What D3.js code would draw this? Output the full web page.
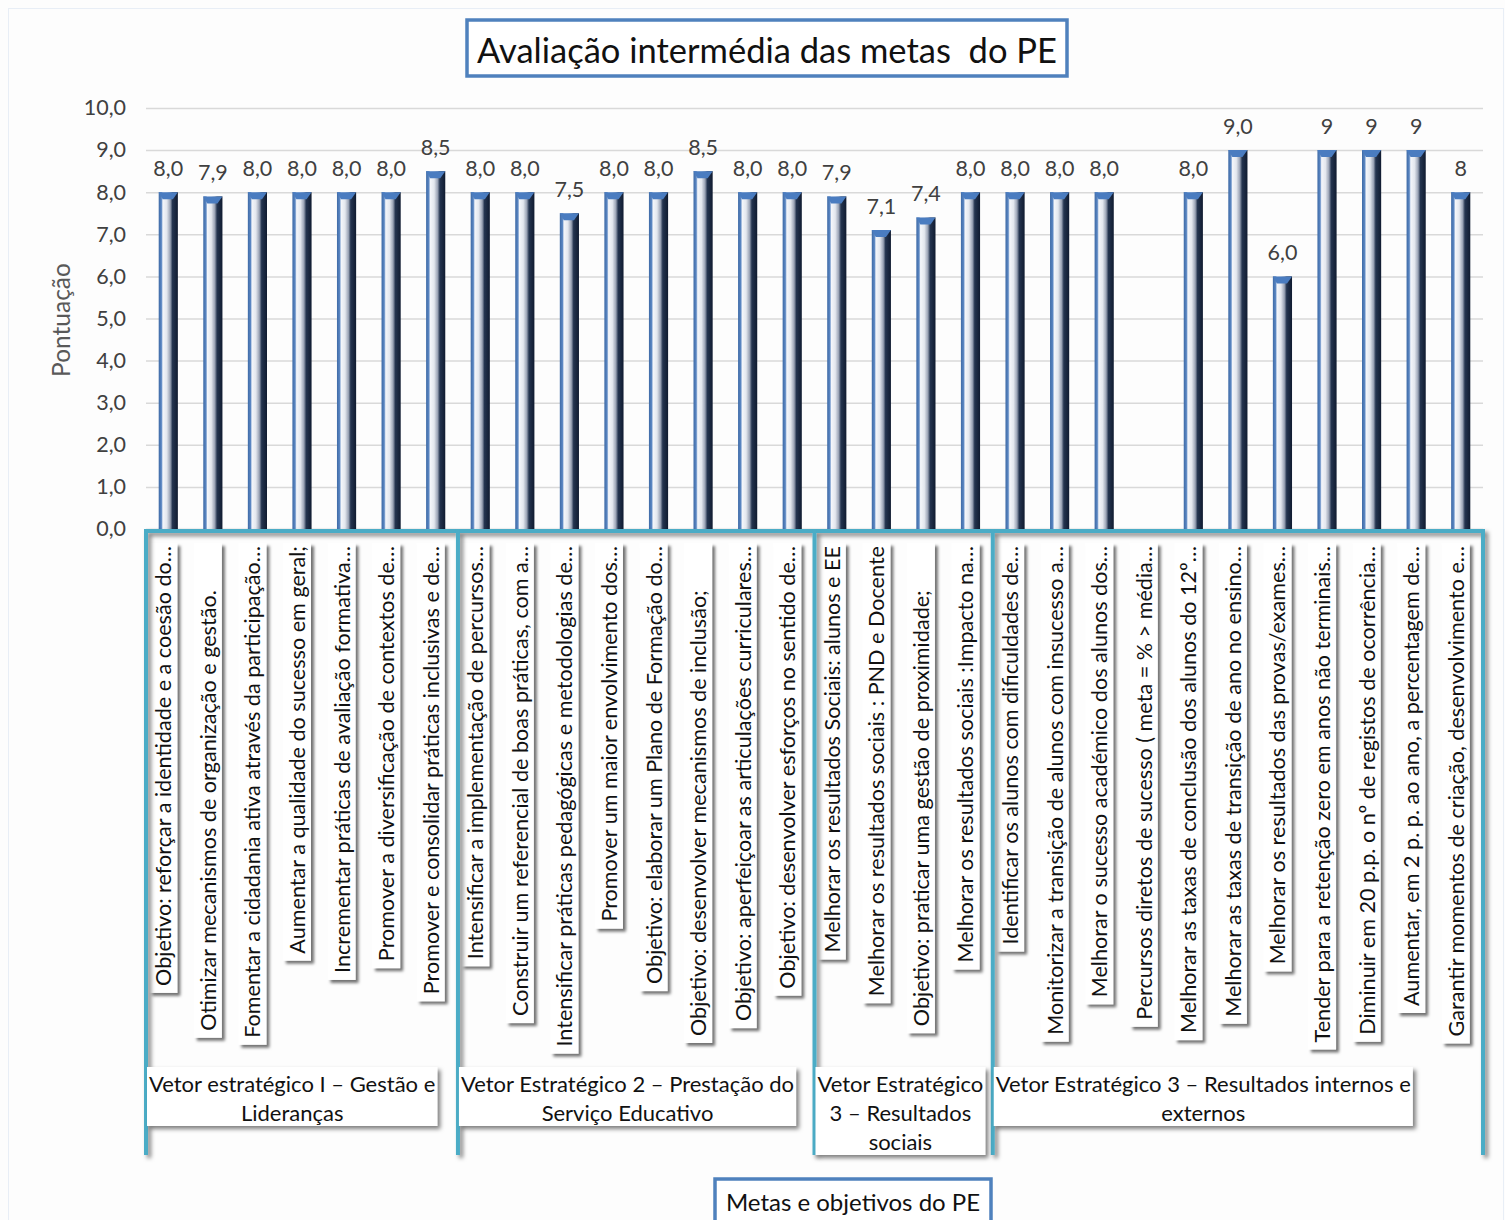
<!DOCTYPE html>
<html>
<head>
<meta charset="utf-8">
<script src="https://cdn.jsdelivr.net/npm/d3@7"></script>
<style>
  html, body { margin: 0; padding: 0; background: #fdfdfd; }
  svg { display: block; }
  svg text { white-space: pre; }
</style>
</head>
<body>
<svg id="chart" width="1505" height="1220"></svg>
<script>
// ---------------- DATA ----------------
const categories = [
  "Objetivo: reforçar a identidade e a coesão do…",
  "Otimizar mecanismos de organização e gestão.        ",
  "Fomentar a cidadania ativa através da participação…",
  "Aumentar a qualidade do sucesso em geral;",
  "Incrementar práticas de avaliação formativa…",
  "Promover a diversificação de contextos de…",
  "Promover e consolidar práticas inclusivas e de…",
  "Intensificar a implementação de percursos…",
  "Construir um referencial de boas práticas, com a…",
  "Intensificar práticas pedagógicas e metodologias de…",
  "Promover um maior envolvimento dos…",
  "Objetivo: elaborar um Plano de Formação do…",
  "Objetivo: desenvolver mecanismos de inclusão;        ",
  "Objetivo: aperfeiçoar as articulações curriculares…",
  "Objetivo: desenvolver esforços no sentido de…",
  "Melhorar os resultados Sociais: alunos e EE",
  "Melhorar os resultados sociais : PND e Docente",
  "Objetivo: praticar uma gestão de proximidade;        ",
  "Melhorar os resultados sociais :Impacto na…",
  "Identificar os alunos com dificuldades de…",
  "Monitorizar a transição de alunos com insucesso a…",
  "Melhorar o sucesso académico dos alunos dos…",
  "Percursos diretos de sucesso ( meta = % > média…",
  "Melhorar as taxas de conclusão dos alunos do 12º…",
  "Melhorar as taxas de transição de ano no ensino…",
  "Melhorar os resultados das provas/exames…",
  "Tender para a retenção zero em anos não terminais…",
  "Diminuir em 20 p.p. o nº de registos de ocorrência…",
  "Aumentar, em 2 p. p. ao ano, a percentagem de…",
  "Garantir momentos de criação, desenvolvimento e…"
];
const values = [8.0, 7.9, 8.0, 8.0, 8.0, 8.0, 8.5,
                8.0, 8.0, 7.5, 8.0, 8.0, 8.5, 8.0, 8.0,
                7.9, 7.1, 7.4, 8.0,
                8.0, 8.0, 8.0, null, 8.0, 9.0, 6.0, 9, 9, 9, 8];
const valueLabels = ["8,0","7,9","8,0","8,0","8,0","8,0","8,5",
                     "8,0","8,0","7,5","8,0","8,0","8,5","8,0","8,0",
                     "7,9","7,1","7,4","8,0",
                     "8,0","8,0","8,0","","8,0","9,0","6,0","9","9","9","8"];
const groupLines = [
  ["Vetor estratégico I – Gestão e", "Lideranças"],
  ["Vetor Estratégico 2 – Prestação do", "Serviço Educativo"],
  ["Vetor Estratégico", "3 – Resultados", "sociais"],
  ["Vetor Estratégico 3 – Resultados internos e", "externos"]
];
const groupStart = [0, 7, 15, 19];
const groupEnd   = [7, 15, 19, 30];
const yTicks = [0,1,2,3,4,5,6,7,8,9,10];
const chartTitle = "Avaliação intermédia das metas  do PE";
const yTitle = "Pontuação";
const xTitle = "Metas e objetivos do PE";

// ---------------- LAYOUT ----------------
const FONT = "Lato, 'Open Sans', sans-serif";
const svg = d3.select("#chart");
const plotLeft = 146, plotRight = 1483, plotTop = 108, plotBottom = 529;
const teal = "#4bacc6", blue = "#4f81bd";

const x = d3.scaleBand().domain(d3.range(categories.length))
  .range([plotLeft, plotRight]).paddingInner(0.57).paddingOuter(0.285);
const y = d3.scaleLinear().domain([0, 10]).range([plotBottom, plotTop]);
const step = x.step();
const boundary = i => plotLeft + i * step;

const defs = svg.append("defs");
const grad = defs.append("linearGradient").attr("id", "barGrad")
  .attr("x1", "0%").attr("x2", "100%").attr("y1", "0%").attr("y2", "0%");
[["0%", "#3e6aa6"], ["14%", "#5a86c2"], ["22%", "#f4f6fa"], ["42%", "#e3e7ee"],
 ["60%", "#9aa3b5"], ["72%", "#24344f"], ["100%", "#101b30"]]
  .forEach(([o, c]) => grad.append("stop").attr("offset", o).attr("stop-color", c));

const sh = defs.append("filter").attr("id", "shadow")
  .attr("x", "-30%").attr("y", "-10%").attr("width", "160%").attr("height", "130%");
sh.append("feDropShadow").attr("dx", 3).attr("dy", 3).attr("stdDeviation", 1.8)
  .attr("flood-color", "#000").attr("flood-opacity", 0.55);
const sh2 = defs.append("filter").attr("id", "shadow2")
  .attr("x", "-5%").attr("y", "-10%").attr("width", "110%").attr("height", "130%");
sh2.append("feDropShadow").attr("dx", 3).attr("dy", 3).attr("stdDeviation", 2)
  .attr("flood-color", "#000").attr("flood-opacity", 0.5);

// Outer faint frame
svg.append("rect").attr("x", 8.5).attr("y", 8.5).attr("width", 1495).attr("height", 1220)
  .attr("fill", "#fdfdfd").attr("stroke", "#e8eef6").attr("stroke-width", 1);

// Gridlines
svg.append("g")
  .attr("transform", `translate(${plotLeft},0)`)
  .call(d3.axisLeft(y).tickValues(yTicks).tickSize(-(plotRight - plotLeft)).tickFormat(""))
  .call(g => g.select(".domain").remove())
  .call(g => g.selectAll("line").attr("stroke", "#d9d9d9").attr("stroke-width", 1.5));

// Y axis labels
svg.append("g")
  .attr("transform", `translate(${plotLeft - 20},0)`)
  .call(d3.axisLeft(y).tickValues(yTicks).tickSize(0).tickPadding(0)
    .tickFormat(d => d.toFixed(1).replace(".", ",")))
  .call(g => g.select(".domain").remove())
  .call(g => g.selectAll("text").attr("font-family", FONT).attr("font-size", 21.5)
    .attr("fill", "#404040"));

// Y title
svg.append("text").attr("transform", "translate(60,320) rotate(-90)")
  .attr("text-anchor", "middle").attr("dominant-baseline", "central")
  .attr("font-family", FONT).attr("font-size", 24.5).attr("fill", "#595959").text(yTitle);

// Bars
const barData = values.map((v, i) => ({ v, i })).filter(d => d.v !== null);
const bars = svg.append("g");
bars.selectAll("rect").data(barData).join("rect")
  .attr("x", d => x(d.i)).attr("width", x.bandwidth())
  .attr("y", d => y(d.v)).attr("height", d => y(0) - y(d.v))
  .attr("fill", "url(#barGrad)");
bars.selectAll("path.cap").data(barData).join("path").attr("class", "cap")
  .attr("d", d => {
    const x0 = x(d.i), x1 = x0 + x.bandwidth(), t = y(d.v);
    return `M${x0},${t}L${x1},${t}L${x1 - 5},${t + 7}L${x0 + 4},${t + 7}Z`;
  })
  .attr("fill", "#4a7cc0");

// Value labels
svg.append("g").selectAll("text").data(barData).join("text")
  .attr("x", d => x(d.i) + x.bandwidth() / 2)
  .attr("y", d => y(d.v) - 16)
  .attr("text-anchor", "middle").attr("font-family", FONT).attr("font-size", 21.5)
  .attr("fill", "#404040").text(d => valueLabels[d.i]);

// Category labels (rotated, in boxes)
const catG = svg.append("g");
const labelTop = 543;
categories.forEach((c, i) => {
  const cx = x(i) + x.bandwidth() / 2 - 5;
  const g = catG.append("g");
  const rect = g.append("rect").attr("fill", "#ffffff").attr("filter", "url(#shadow)");
  const t = g.append("text")
    .attr("transform", `translate(${cx},${labelTop + 3}) rotate(-90)`)
    .attr("text-anchor", "end").attr("dominant-baseline", "central")
    .attr("font-family", FONT).attr("font-size", 21.6).attr("fill", "#111")
    .text(c);
  const len = t.node().getComputedTextLength();
  rect.attr("x", cx - 14).attr("width", 28).attr("y", labelTop)
    .attr("height", len + 10);
});

// Teal frame lines
const frame = svg.append("g").attr("filter", "url(#shadow2)");
frame.append("line").attr("x1", plotLeft - 1).attr("x2", plotRight + 1)
  .attr("y1", plotBottom + 2).attr("y2", plotBottom + 2)
  .attr("stroke", teal).attr("stroke-width", 4);
const bounds = [0, ...groupEnd];
frame.selectAll("line.v").data(bounds).join("line").attr("class", "v")
  .attr("x1", d => boundary(d)).attr("x2", d => boundary(d))
  .attr("y1", plotBottom).attr("y2", 1155)
  .attr("stroke", teal).attr("stroke-width", 4);

// Group labels
groupLines.forEach((lines, gi) => {
  const gx0 = boundary(groupStart[gi]);
  const g = svg.append("g");
  const rect = g.append("rect").attr("fill", "#fff").attr("filter", "url(#shadow2)");
  const txt = g.append("text").attr("font-family", FONT).attr("font-size", 22).attr("fill", "#111")
    .attr("text-anchor", "middle");
  lines.forEach((l, li) => {
    txt.append("tspan").attr("x", 0).attr("y", 1083 + li * 29)
      .attr("dominant-baseline", "central").text(l);
  });
  const w = d3.max(txt.selectAll("tspan").nodes(), n => n.getComputedTextLength()) + 4;
  txt.attr("transform", `translate(${gx0 + 1 + w / 2},0)`);
  rect.attr("x", gx0 + 1).attr("width", w).attr("y", 1067)
    .attr("height", lines.length * 29 + 1);
});

// Title
const titleG = svg.append("g");
titleG.append("rect").attr("x", 467).attr("y", 20).attr("width", 600).attr("height", 56)
  .attr("fill", "#fff").attr("stroke", blue).attr("stroke-width", 3.5);
titleG.append("text").attr("x", 767).attr("y", 49).attr("text-anchor", "middle")
  .attr("dominant-baseline", "central").attr("font-family", FONT).attr("font-size", 34.5)
  .attr("fill", "#111").text(chartTitle);

// X axis title
const xtG = svg.append("g");
xtG.append("rect").attr("x", 715).attr("y", 1179).attr("width", 276).attr("height", 46)
  .attr("fill", "#fff").attr("stroke", blue).attr("stroke-width", 3.5);
xtG.append("text").attr("x", 853).attr("y", 1201).attr("text-anchor", "middle")
  .attr("dominant-baseline", "central").attr("font-family", FONT).attr("font-size", 24)
  .attr("fill", "#111").text(xTitle);
</script>
</body>
</html>
